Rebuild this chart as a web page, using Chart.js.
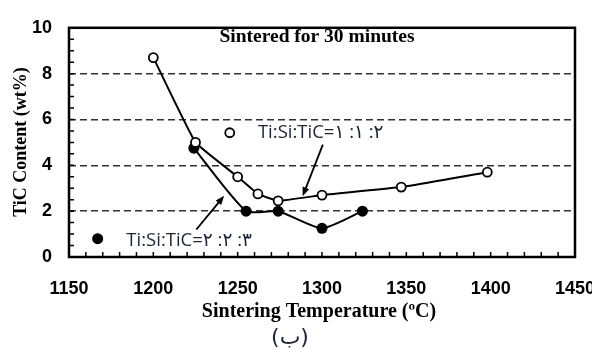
<!DOCTYPE html>
<html>
<head>
<meta charset="utf-8">
<script src="https://cdn.jsdelivr.net/npm/chart.js@4"></script>
<style>
  html, body { margin: 0; padding: 0; background: #fff; overflow: hidden; }
  #wrap { width: 592px; height: 349px; overflow: hidden; }
</style>
</head>
<body>
<div id="wrap"><canvas id="ticChart" width="620" height="349"></canvas></div>
<script>
// Ti:Si:TiC = 1:1:2 (open circles)
const temps112 = [1200, 1225, 1250, 1262, 1274, 1300, 1347, 1398];
const tic112 = [8.7, 5.0, 3.5, 2.75, 2.45, 2.7, 3.05, 3.7];
// Ti:Si:TiC = 2:2:3 (filled circles)
const temps223 = [1224, 1255, 1274, 1300, 1324];
const tic223 = [4.75, 2.0, 2.0, 1.25, 2.0];

const xTicks = [1150, 1200, 1250, 1300, 1350, 1400, 1450];
const yTicks = [0, 2, 4, 6, 8, 10];
const seriesLabels = ['Ti:Si:TiC=\u06F1 :\u06F1 :\u06F2', 'Ti:Si:TiC=\u06F2 :\u06F2 :\u06F3'];

const chartTitle = 'Sintered for 30 minutes';
const xTitle = 'Sintering Temperature (\u00BAC)';
const yTitle = 'TiC Content (wt%)';
const caption = '(\u0628)';

const serifFamily = '"Liberation Serif", "DejaVu Serif", serif';

function toPoints(xs, ys) {
    return xs.map((x, i) => ({ x: x, y: ys[i] }));
}

// arrow with a small filled head
function arrow(ctx, x1, y1, x2, y2) {
    const ang = Math.atan2(y2 - y1, x2 - x1);
    const len = 9, w = 3.5;
    ctx.beginPath();
    ctx.moveTo(x1, y1);
    ctx.lineTo(x2 - Math.cos(ang) * len * 0.8, y2 - Math.sin(ang) * len * 0.8);
    ctx.stroke();
    ctx.beginPath();
    ctx.moveTo(x2, y2);
    ctx.lineTo(x2 - Math.cos(ang) * len + Math.sin(ang) * w, y2 - Math.sin(ang) * len - Math.cos(ang) * w);
    ctx.lineTo(x2 - Math.cos(ang) * len - Math.sin(ang) * w, y2 - Math.sin(ang) * len + Math.cos(ang) * w);
    ctx.closePath();
    ctx.fill();
}

const decorations = {
    id: 'decorations',
    afterDraw(chart) {
        const ctx = chart.ctx;
        const a = chart.chartArea;
        const xs = chart.scales.x, ys = chart.scales.y;
        const px = v => xs.getPixelForValue(v);
        const py = v => ys.getPixelForValue(v);
        ctx.save();

        // minor ticks pointing inward
        ctx.strokeStyle = '#000';
        ctx.lineWidth = 1.5;
        ctx.beginPath();
        for (let t = 1160; t < 1450; t += 10) {
            ctx.moveTo(px(t), a.bottom);
            ctx.lineTo(px(t), a.bottom - 5);
        }
        for (let v = 0.5; v < 10; v += 0.5) {
            ctx.moveTo(a.left, py(v));
            ctx.lineTo(a.left + 5, py(v));
        }
        ctx.stroke();

        // frame
        ctx.lineWidth = 2.5;
        ctx.strokeRect(a.left, a.top, a.right - a.left, a.bottom - a.top);

        // in-plot title
        ctx.fillStyle = '#000';
        ctx.font = 'bold 19.5px ' + serifFamily;
        ctx.textAlign = 'center';
        ctx.textBaseline = 'middle';
        ctx.fillText(chartTitle, 317, 37);

        // legend markers
        ctx.lineWidth = 1.8;
        ctx.beginPath();
        ctx.arc(px(1245.3), py(5.42), 4.5, 0, Math.PI * 2);
        ctx.fillStyle = '#fff';
        ctx.fill();
        ctx.stroke();
        ctx.beginPath();
        ctx.arc(px(1167), py(0.8), 5.5, 0, Math.PI * 2);
        ctx.fillStyle = '#000';
        ctx.fill();

        // legend texts
        ctx.fillStyle = '#1c2538';
        ctx.font = '18.5px "Open Sans", "DejaVu Sans", sans-serif';
        ctx.textAlign = 'left';
        ctx.fillText(seriesLabels[0], px(1262), py(5.42));
        ctx.fillText(seriesLabels[1], px(1184), py(0.7));

        // arrows
        ctx.strokeStyle = '#000';
        ctx.fillStyle = '#000';
        ctx.lineWidth = 1.8;
        arrow(ctx, px(1300.5), py(4.9), px(1288.5), py(2.65));
        arrow(ctx, px(1225.5), py(1.2), px(1242), py(2.67));

        // axis titles
        ctx.fillStyle = '#000';
        ctx.textAlign = 'center';
        ctx.font = 'bold 20px ' + serifFamily;
        ctx.fillText(xTitle, 319, 312);
        ctx.save();
        ctx.translate(21, 142);
        ctx.rotate(-Math.PI / 2);
        ctx.font = 'bold 18px ' + serifFamily;
        ctx.fillText(yTitle, 0, 0);
        ctx.restore();

        // caption
        ctx.fillStyle = '#1c2538';
        ctx.font = '22px "DejaVu Sans", sans-serif';
        ctx.fillText(caption, 290, 338);

        ctx.restore();
    }
};

const tickFont = { family: '"Liberation Sans", Arial, sans-serif', size: 18, weight: 'bold' };

new Chart(document.getElementById('ticChart').getContext('2d'), {
    type: 'line',
    data: {
        datasets: [{
            label: seriesLabels[0],
            data: toPoints(temps112, tic112),
            borderColor: '#000',
            borderWidth: 2,
            tension: 0.1,
            pointRadius: 4.5,
            pointBorderWidth: 1.8,
            pointBackgroundColor: '#fff',
            pointBorderColor: '#000'
        }, {
            label: seriesLabels[1],
            data: toPoints(temps223, tic223),
            borderColor: '#000',
            borderWidth: 2,
            tension: 0.2,
            pointRadius: 5.5,
            pointBorderWidth: 0,
            pointBackgroundColor: '#000',
            pointBorderColor: '#000'
        }]
    },
    options: {
        responsive: false,
        animation: false,
        layout: { padding: { top: 17, right: 45, left: 0, bottom: 0 } },
        plugins: { legend: { display: false }, tooltip: { enabled: false } },
        scales: {
            x: {
                type: 'linear',
                min: 1150,
                max: 1450,
                afterBuildTicks: s => { s.ticks = xTicks.map(v => ({ value: v })); },
                afterFit: s => { s.height = 92; },
                grid: { display: false, drawTicks: false },
                border: { display: false },
                ticks: { font: tickFont, color: '#000', padding: 21, maxRotation: 0, callback: v => String(v) }
            },
            y: {
                min: 0,
                max: 10,
                afterBuildTicks: s => { s.ticks = yTicks.map(v => ({ value: v })); },
                afterFit: s => { s.width = 69; },
                grid: {
                    drawTicks: false,
                    lineWidth: 1.5,
                    color: c => (c.tick && (c.tick.value === 0 || c.tick.value === 10)) ? 'rgba(0,0,0,0)' : '#333'
                },
                border: { display: false, dash: [7, 4] },
                ticks: { font: tickFont, color: '#000', padding: 17, callback: v => String(v) }
            }
        }
    },
    plugins: [decorations]
});
</script>
</body>
</html>
